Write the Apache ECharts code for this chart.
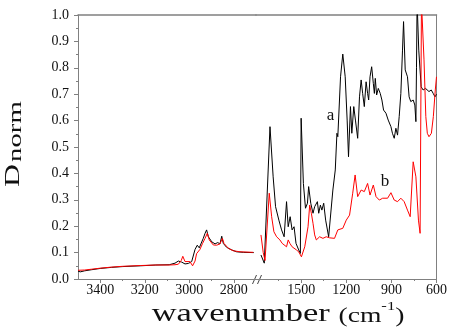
<!DOCTYPE html>
<html>
<head>
<meta charset="utf-8">
<script src="https://cdn.jsdelivr.net/npm/echarts@6/dist/echarts.min.js"></script>
<style>
  html, body { margin: 0; padding: 0; background: #fff; }
  #chart { width: 450px; height: 329px; }
</style>
</head>
<body>
<div id="chart"></div>
<script>
// spectrum a (black) and b (red), [wavenumber, Dnorm]
// high wavenumber part, 3500 - 2700
const blackHigh = [[3500,0.030],[3490,0.027],[3470,0.031],[3440,0.035],[3400,0.040],[3350,0.044],[3300,0.047],[3220,0.050],[3150,0.053],[3090,0.054],[3064,0.060],[3049,0.068],[3034,0.064],[3019,0.057],[3004,0.059],[2989,0.066],[2974,0.112],[2964,0.128],[2955,0.118],[2949,0.122],[2937,0.154],[2929,0.173],[2922,0.186],[2914,0.160],[2899,0.141],[2884,0.133],[2872,0.138],[2862,0.133],[2854,0.162],[2847,0.135],[2832,0.120],[2809,0.110],[2787,0.103],[2757,0.101],[2710,0.100]];
const redHigh = [[3500,0.033],[3470,0.034],[3440,0.037],[3400,0.041],[3350,0.045],[3300,0.048],[3220,0.051],[3150,0.053],[3090,0.053],[3064,0.054],[3049,0.056],[3036,0.070],[3029,0.086],[3019,0.066],[3011,0.062],[2997,0.066],[2985,0.050],[2974,0.068],[2967,0.096],[2959,0.097],[2952,0.112],[2940,0.135],[2929,0.154],[2919,0.173],[2910,0.148],[2892,0.129],[2877,0.128],[2862,0.133],[2851,0.154],[2844,0.135],[2824,0.116],[2802,0.107],[2772,0.103],[2712,0.101]];
// fingerprint part, 1800 - 600
const blackLow = [[1767,0.091],[1745,0.060],[1707,0.577],[1686,0.387],[1670,0.274],[1648,0.223],[1630,0.186],[1613,0.160],[1597,0.293],[1586,0.198],[1573,0.236],[1560,0.186],[1547,0.198],[1534,0.135],[1516,0.110],[1505,0.097],[1500,0.609],[1485,0.362],[1471,0.268],[1458,0.287],[1450,0.350],[1436,0.287],[1421,0.249],[1410,0.274],[1392,0.293],[1383,0.249],[1372,0.280],[1362,0.261],[1350,0.287],[1337,0.223],[1317,0.160],[1304,0.154],[1289,0.337],[1273,0.413],[1262,0.552],[1256,0.539],[1238,0.766],[1223,0.852],[1207,0.766],[1194,0.602],[1185,0.463],[1172,0.653],[1163,0.552],[1150,0.653],[1139,0.602],[1124,0.533],[1112,0.690],[1101,0.754],[1091,0.703],[1080,0.653],[1068,0.747],[1058,0.703],[1051,0.678],[1042,0.766],[1031,0.804],[1020,0.741],[1013,0.703],[1007,0.760],[998,0.697],[987,0.722],[974,0.703],[963,0.678],[952,0.640],[936,0.628],[921,0.602],[903,0.577],[893,0.552],[881,0.533],[870,0.571],[859,0.545],[848,0.615],[837,0.703],[826,0.867],[819,0.975],[808,0.792],[793,0.766],[782,0.690],[771,0.672],[755,0.678],[744,0.659],[737,0.596],[733,0.800],[729,1.05],[725,1.05],[718,0.867],[702,0.728],[689,0.716],[673,0.722],[663,0.716],[650,0.710],[635,0.716],[622,0.703],[610,0.690],[600,0.700]];
const redLow = [[1767,0.167],[1752,0.100],[1740,0.070],[1712,0.325],[1696,0.236],[1681,0.179],[1663,0.160],[1641,0.148],[1626,0.135],[1613,0.141],[1597,0.122],[1586,0.148],[1575,0.135],[1560,0.122],[1547,0.129],[1531,0.110],[1516,0.103],[1498,0.084],[1476,0.122],[1454,0.198],[1443,0.280],[1432,0.249],[1421,0.211],[1410,0.167],[1399,0.148],[1377,0.160],[1355,0.154],[1333,0.160],[1311,0.156],[1278,0.154],[1256,0.186],[1223,0.192],[1200,0.223],[1178,0.242],[1157,0.325],[1141,0.394],[1124,0.312],[1101,0.337],[1080,0.331],[1058,0.362],[1042,0.318],[1020,0.356],[1002,0.312],[980,0.299],[958,0.306],[925,0.306],[903,0.327],[881,0.299],[859,0.293],[837,0.306],[815,0.293],[793,0.261],[775,0.236],[755,0.444],[737,0.387],[720,0.223],[709,0.173],[700,1.05],[694,1.05],[683,0.830],[671,0.615],[661,0.552],[650,0.539],[634,0.552],[621,0.615],[608,0.716],[600,0.766]];

const highMajor = [2800, 3000, 3200, 3400];
const highMinor = [2900, 3100, 3300];
const lowMajor = [600, 900, 1200, 1500];
const lowMinor = [750, 1050, 1350, 1650];

const serif = 'Liberation Serif';
const axisGrey = '#808080';

const ele = document.getElementById('chart');
const myChart = echarts.init(ele);

// bottom axis, ticks + labels from custom values
const bottomAxis = (grid, min, max, major) => ({
  type: 'value', gridIndex: grid, min: min, max: max, inverse: true,
  position: 'bottom', offset: 0,
  axisLine: { show: true, onZero: false, lineStyle: { color: axisGrey, width: 1 } },
  axisTick: { show: true, customValues: major, length: 4, lineStyle: { color: axisGrey } },
  axisLabel: {
    show: true, customValues: major, margin: 4, color: '#111', fontSize: 14, fontFamily: serif,
    formatter: (v) => String(v),
  },
  splitLine: { show: false },
});
const minorAxis = (grid, min, max, minor) => ({
  type: 'value', gridIndex: grid, min: min, max: max, inverse: true,
  position: 'bottom', offset: 0,
  axisLine: { show: false, onZero: false },
  axisTick: { show: true, customValues: minor, length: 2, lineStyle: { color: axisGrey } },
  axisLabel: { show: false },
  splitLine: { show: false },
});
const topAxis = (grid, min, max) => ({
  type: 'value', gridIndex: grid, min: min, max: max, inverse: true,
  position: 'top', offset: 0,
  axisLine: { show: true, onZero: false, lineStyle: { color: axisGrey, width: 1.5 } },
  axisTick: { show: false },
  axisLabel: { show: false },
  splitLine: { show: false },
});

const option = {
  animation: false,
  backgroundColor: '#fff',
  textStyle: { fontFamily: serif },
  grid: [
    { left: 78, top: 15, width: 178, height: 264 },
    { left: 256, top: 15, width: 181.5, height: 264 },
  ],
  xAxis: [
    bottomAxis(0, 2700, 3500, highMajor),
    minorAxis(0, 2700, 3500, highMinor),
    topAxis(0, 2700, 3500),
    bottomAxis(1, 600, 1800, lowMajor),
    minorAxis(1, 600, 1800, lowMinor),
    topAxis(1, 600, 1800),
  ],
  yAxis: [
    {
      type: 'value', gridIndex: 0, min: 0, max: 1, interval: 0.1,
      axisLine: { show: true, lineStyle: { color: axisGrey, width: 1 } },
      axisTick: { show: true, length: 4, lineStyle: { color: axisGrey } },
      minorTick: { show: true, splitNumber: 2, length: 2, lineStyle: { color: axisGrey } },
      axisLabel: { margin: 9, color: '#111', fontSize: 14, fontFamily: serif, formatter: (v) => v.toFixed(1) },
      splitLine: { show: false },
    },
    {
      type: 'value', gridIndex: 1, min: 0, max: 1, position: 'right',
      axisLine: { show: true, lineStyle: { color: axisGrey, width: 1 } },
      axisTick: { show: false },
      axisLabel: { show: false },
      splitLine: { show: false },
    },
  ],
  series: [
    {
      type: 'line', name: 'a', xAxisIndex: 0, yAxisIndex: 0, data: blackHigh,
      showSymbol: false, lineStyle: { color: '#000', width: 1 }, itemStyle: { color: '#000' },
    },
    {
      type: 'line', name: 'b', xAxisIndex: 0, yAxisIndex: 0, data: redHigh,
      showSymbol: false, lineStyle: { color: '#ff0000', width: 1 }, itemStyle: { color: '#ff0000' },
    },
    {
      type: 'line', name: 'a', xAxisIndex: 3, yAxisIndex: 1, data: blackLow,
      showSymbol: false, lineStyle: { color: '#000', width: 1 }, itemStyle: { color: '#000' },
      markPoint: {
        silent: true, symbol: 'circle', symbolSize: 0,
        label: { show: true, position: 'inside', formatter: 'a', color: '#111', fontSize: 17, fontFamily: serif },
        data: [{ coord: [1304, 0.62] }],
      },
    },
    {
      type: 'line', name: 'b', xAxisIndex: 3, yAxisIndex: 1, data: redLow,
      showSymbol: false, lineStyle: { color: '#ff0000', width: 1 }, itemStyle: { color: '#ff0000' },
      markPoint: {
        silent: true, symbol: 'circle', symbolSize: 0,
        label: { show: true, position: 'inside', formatter: 'b', color: '#111', fontSize: 17, fontFamily: serif },
        data: [{ coord: [942, 0.37] }],
      },
    },
  ],
  graphic: [
    // axis break marks
    { type: 'line', silent: true, shape: { x1: 252.5, y1: 284, x2: 256.5, y2: 275 }, style: { stroke: '#444', lineWidth: 1 } },
    { type: 'line', silent: true, shape: { x1: 257.5, y1: 284, x2: 261.5, y2: 275 }, style: { stroke: '#444', lineWidth: 1 } },
    // x title
    {
      type: 'text', x: 278, y: 314, scaleX: 1.38,
      style: {
        text: '{w|wavenumber }{p|(cm}{s|-1}{p|)}',
        align: 'center', verticalAlign: 'middle', fill: '#111',
        rich: {
          w: { fontSize: 25, fontFamily: serif, fill: '#111', lineHeight: 26, verticalAlign: 'bottom' },
          p: { fontSize: 20, fontFamily: serif, fill: '#111', lineHeight: 24, verticalAlign: 'bottom' },
          s: { fontSize: 12, fontFamily: serif, fill: '#111', lineHeight: 26, verticalAlign: 'top' },
        },
      },
    },
    // y title, D with subscript norm, read bottom to top
    {
      type: 'text', x: 4, y: 187, rotation: Math.PI / 2, scaleX: 1.6,
      style: { text: 'D', fontSize: 20, fontFamily: serif, fill: '#111' },
    },
    {
      type: 'text', x: 7.5, y: 162, rotation: Math.PI / 2, scaleX: 1.6,
      style: { text: 'norm', fontSize: 18, fontFamily: serif, fill: '#111' },
    },
  ],
};

myChart.setOption(option);
</script>
</body>
</html>
